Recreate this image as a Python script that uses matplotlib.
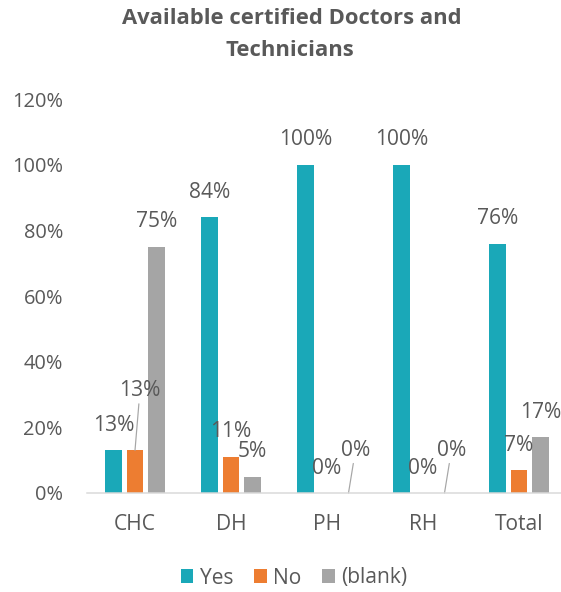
import matplotlib
matplotlib.use('Agg')
import matplotlib.pyplot as plt
import numpy as np

plt.rcParams['font.family'] = ['Open Sans', 'DejaVu Sans']

categories = ['CHC', 'DH', 'PH', 'RH', 'Total']
series = ['Yes', 'No', '(blank)']
yes_vals = [0.13, 0.84, 1.00, 1.00, 0.76]
no_vals = [0.13, 0.11, 0.00, 0.00, 0.07]
blank_vals = [0.75, 0.05, 0.00, 0.00, 0.17]
colors = ['#1AA8B8', '#ED7D31', '#A5A5A5']
yticks = [0, 0.2, 0.4, 0.6, 0.8, 1.0, 1.2]

text_col = '#595959'
W, H = 561, 592
fig = plt.figure(figsize=(W / 72, H / 72), dpi=72)
ax = fig.add_axes([87 / W, (H - 493) / H, 480 / W, (493 - 99.4) / H])

x = np.arange(len(categories))
bw = 0.177
off = 0.224
all_vals = [yes_vals, no_vals, blank_vals]
bars = []
for i, vals in enumerate(all_vals):
    b = ax.bar(x + (i - 1) * off, vals, bw, color=colors[i], label=series[i], zorder=3)
    bars.append(b)

# data labels; a few small ones are pushed up with a leader line
leaders = {(1, 0): (5, 60), (2, 2): (7, 43), (2, 3): (7, 43)}
for i, vals in enumerate(all_vals):
    for j, v in enumerate(vals):
        xi = x[j] + (i - 1) * off
        lab = f'{round(v * 100):.0f}%'
        if (i, j) in leaders:
            dx, dy = leaders[(i, j)]
            ax.annotate(lab, xy=(xi, v), xytext=(dx, dy), textcoords='offset points',
                        ha='center', va='center', fontsize=21, color=text_col,
                        arrowprops=dict(arrowstyle='-', color='#A6A6A6', lw=1.2,
                                        shrinkA=1, shrinkB=0))
        else:
            ax.annotate(lab, xy=(xi, v), xytext=(0, 25), textcoords='offset points',
                        ha='center', va='center', fontsize=21, color=text_col)

ax.set_xlim(-0.5, len(categories) - 0.5)
ax.set_ylim(0, 1.2)
ax.set_yticks(yticks)
ax.set_yticklabels([f'{round(t * 100)}%' for t in yticks], fontsize=20, color=text_col)
ax.set_xticks(x)
ax.set_xticklabels(categories, fontsize=21, color=text_col)
ax.tick_params(axis='y', length=0, pad=24)
ax.tick_params(axis='x', length=0, pad=21)
for s in ['top', 'right', 'left']:
    ax.spines[s].set_visible(False)
ax.spines['bottom'].set_color('#D9D9D9')
ax.spines['bottom'].set_linewidth(1.5)
ax.spines['bottom'].set_zorder(4)

fig.text(292 / W, 1 - 18 / H, 'Available certified Doctors and', ha='center', va='center',
         fontsize=22, fontweight='bold', color=text_col)
fig.text(290 / W, 1 - 50 / H, 'Technicians', ha='center', va='center',
         fontsize=22, fontweight='bold', color=text_col)

fig.legend(handles=bars, labels=series, loc='center', bbox_to_anchor=(294 / W, 1 - 578 / H),
           ncol=3, frameon=False, fontsize=21, handlelength=0.6, handleheight=0.6,
           handletextpad=0.3, columnspacing=1.0, labelcolor=text_col)

fig.savefig('out.png', dpi=72)
